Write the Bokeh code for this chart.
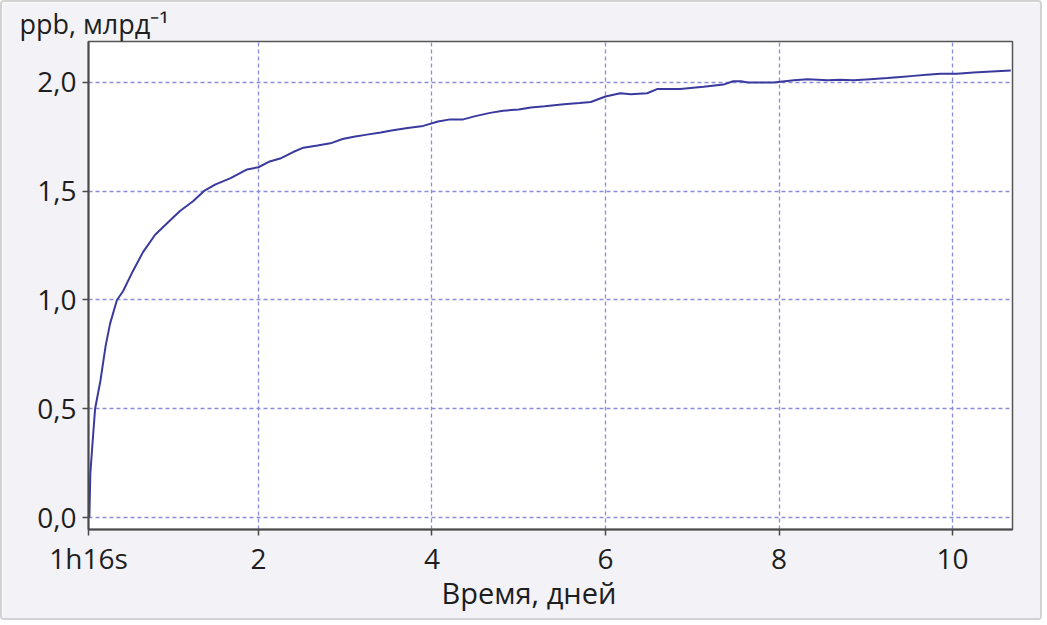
from bokeh.plotting import figure
from bokeh.models import FixedTicker, Range1d, Title
from bokeh.embed import file_html
from bokeh.resources import INLINE

# time in days, value in ppb
days = [0.052, 0.063, 0.086, 0.118, 0.18, 0.24, 0.29, 0.37, 0.44, 0.55, 0.67, 0.81,
        1.02, 1.10, 1.25, 1.37, 1.50, 1.68, 1.87, 2.0, 2.12, 2.25, 2.40, 2.52, 2.68,
        2.83, 2.97, 3.10, 3.25, 3.41, 3.55, 3.72, 3.90, 4.07, 4.21, 4.36, 4.50, 4.67,
        4.82, 5.00, 5.14, 5.30, 5.52, 5.70, 5.83, 6.0, 6.17, 6.29, 6.48, 6.60, 6.86,
        7.13, 7.36, 7.47, 7.56, 7.64, 7.80, 7.94, 8.17, 8.33, 8.56, 8.70, 8.86, 9.05,
        9.25, 9.40, 9.55, 9.70, 9.86, 10.05, 10.24, 10.45, 10.67]
values = [0.0, 0.2, 0.33, 0.50, 0.63, 0.79, 0.89, 1.0, 1.04, 1.13, 1.22, 1.30,
          1.38, 1.41, 1.455, 1.50, 1.53, 1.56, 1.60, 1.61, 1.635, 1.65, 1.68, 1.70, 1.71,
          1.72, 1.74, 1.75, 1.76, 1.77, 1.78, 1.79, 1.80, 1.82, 1.83, 1.83, 1.845, 1.86,
          1.87, 1.875, 1.885, 1.89, 1.90, 1.905, 1.91, 1.935, 1.95, 1.945, 1.95, 1.97, 1.97,
          1.98, 1.99, 2.005, 2.005, 2.0, 2.0, 2.0, 2.01, 2.015, 2.01, 2.012, 2.01, 2.015,
          2.02, 2.025, 2.03, 2.035, 2.04, 2.04, 2.045, 2.05, 2.055]

x_ticks = [0.042, 2, 4, 6, 8, 10]
x_tick_labels = ["1h16s", "2", "4", "6", "8", "10"]
y_ticks = [0.0, 0.5, 1.0, 1.5, 2.0]
y_tick_labels = ["0,0", "0,5", "1,0", "1,5", "2,0"]

FONT = "Open Sans"
TXT = "#1e1e1e"

p = figure(width=1042, height=620, output_backend="svg", toolbar_location=None,
           x_range=Range1d(0.042, 10.69), y_range=Range1d(-0.055, 2.188),
           min_border_left=86, min_border_right=32, min_border_top=37, min_border_bottom=93)

p.background_fill_color = "white"
p.border_fill_color = "#f3f3f7"
p.outline_line_color = "#555555"
p.outline_line_width = 1.5
p.styles = {"border": "2px solid #d2d2d2", "border-radius": "4px"}

p.line(days, values, line_color="#3a3a9e", line_width=2)

p.xaxis.ticker = FixedTicker(ticks=x_ticks)
p.xaxis.major_label_overrides = dict(zip(x_ticks, x_tick_labels))
p.yaxis.ticker = FixedTicker(ticks=y_ticks)
p.yaxis.major_label_overrides = dict(zip(y_ticks, y_tick_labels))

for ax in (p.xaxis, p.yaxis):
    ax.axis_line_color = "#4a4a4a"
    ax.axis_line_width = 2
    ax.major_tick_line_color = "#4a4a4a"
    ax.major_tick_line_width = 1.5
    ax.major_tick_in = 0
    ax.major_tick_out = 6
    ax.minor_tick_line_color = None
    ax.major_label_text_font = FONT
    ax.major_label_text_font_size = "28px"
    ax.major_label_text_color = TXT
p.xaxis.major_label_standoff = 3
p.yaxis.major_label_standoff = 6

for g in (p.xgrid, p.ygrid):
    g.grid_line_color = "#8c8cdc"
    g.grid_line_dash = "4 3"
    g.grid_line_width = 1.3

p.add_layout(Title(text="Время, дней", align="left", offset=353, standoff=-13,
                   vertical_align="top",
                   text_font=FONT, text_font_size="29px", text_font_style="normal",
                   text_color=TXT), "below")
p.add_layout(Title(text="ppb, млрд⁻¹", align="left", offset=-69, standoff=0,
                   text_font=FONT, text_font_size="27px", text_font_style="normal",
                   text_color=TXT), "above")

open("out.html", "w").write(file_html(p, INLINE))
